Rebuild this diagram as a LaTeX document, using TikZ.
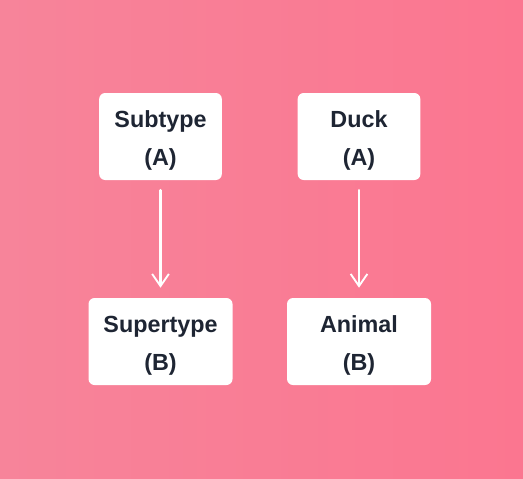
\documentclass[tikz,border=0pt]{standalone}
\usepackage{fontspec}
\setmainfont{Liberation Sans}
\usepackage{tikz}
\usetikzlibrary{arrows.meta}
\usepackage{xcolor}
\definecolor{bgleft}{HTML}{F7849A}
\definecolor{bgright}{HTML}{FB7690}
\definecolor{inkdark}{HTML}{1E2533}
\newcommand{\boxgap}{\rule{0pt}{19pt}}

\begin{document}
\begin{tikzpicture}[x=0.75pt,y=-0.75pt,>={Straight Barb[length=3.2mm,width=4.4mm,line width=1.4pt]},
  typebox/.style={fill=white,rounded corners=4.5pt,minimum height=65.25pt,align=center,
    text=inkdark,font=\fontsize{17.5}{28.5}\selectfont\bfseries,inner sep=0pt},
  relarrow/.style={->,white,line width=2.2pt,line cap=round,shorten <=7.5pt,shorten >=7.5pt}]
\shade[left color=bgleft,right color=bgright] (0,0) rectangle (523,478);
\useasboundingbox (0,0) rectangle (523,478);
\node[typebox,minimum width=92pt] (sub) at (160.5,136.5) {\boxgap Subtype\\(A)};
\node[typebox,minimum width=92pt] (duck) at (359,136.5) {\boxgap Duck\\(A)};
\node[typebox,minimum width=108pt] (sup) at (160.5,341.5) {\boxgap Supertype\\(B)};
\node[typebox,minimum width=108pt] (animal) at (359,341.5) {\boxgap Animal\\(B)};
\draw[relarrow] (sub.south) -- (sup.north);
\draw[relarrow] (duck.south) -- (animal.north);
\end{tikzpicture}
\end{document}
